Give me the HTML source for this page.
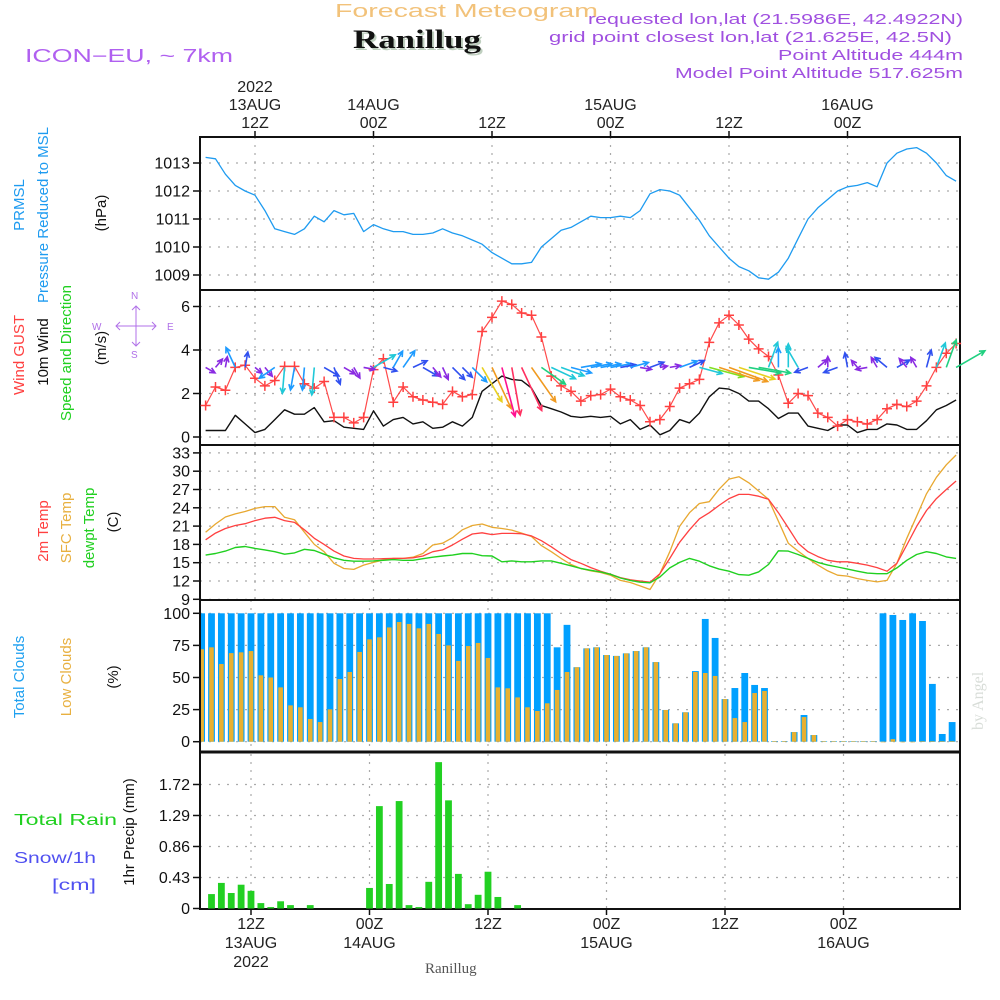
<!DOCTYPE html>
<html><head><meta charset="utf-8">
<style>
body{margin:0;background:#fff;}
svg{display:block;font-family:"Liberation Sans",sans-serif;}
</style></head>
<body>
<svg id="chart" width="1000" height="1000" viewBox="0 0 1000 1000" xmlns="http://www.w3.org/2000/svg">
<rect width="1000" height="1000" fill="#fff"/>
<text x="335" y="17" font-size="18" fill="#f2c27a" textLength="263" lengthAdjust="spacingAndGlyphs">Forecast Meteogram</text>
<text x="355" y="50" font-family="Liberation Serif,serif" font-weight="bold" font-size="26" fill="#bfcfbf" textLength="128" lengthAdjust="spacingAndGlyphs">Ranillug</text>
<text x="353" y="48" font-family="Liberation Serif,serif" font-weight="bold" font-size="26" fill="#111" textLength="128" lengthAdjust="spacingAndGlyphs">Ranillug</text>
<text x="25" y="62" font-size="18" fill="#b060f0" textLength="208" lengthAdjust="spacingAndGlyphs">ICON−EU, ~ 7km</text>
<g fill="#a050e0" font-size="15">
<text x="588" y="24" textLength="375" lengthAdjust="spacingAndGlyphs">requested lon,lat (21.5986E, 42.4922N)</text>
<text x="549" y="42" textLength="403" lengthAdjust="spacingAndGlyphs">grid point closest lon,lat (21.625E, 42.5N)</text>
<text x="778" y="60" textLength="185" lengthAdjust="spacingAndGlyphs">Point Altitude 444m</text>
<text x="675" y="78" textLength="288" lengthAdjust="spacingAndGlyphs">Model Point Altitude 517.625m</text>
</g>
<g font-size="15">
<text transform="translate(24,205) rotate(-90)" text-anchor="middle" fill="#1e9bf0">PRMSL</text>
<text transform="translate(48,215) rotate(-90)" text-anchor="middle" fill="#1e9bf0">Pressure Reduced to MSL</text>
<text transform="translate(106,213) rotate(-90)" text-anchor="middle" fill="#111">(hPa)</text>
<text transform="translate(24,355) rotate(-90)" text-anchor="middle" fill="#ff4040">Wind GUST</text>
<text transform="translate(48,352) rotate(-90)" text-anchor="middle" fill="#111">10m Wind</text>
<text transform="translate(71,353) rotate(-90)" text-anchor="middle" fill="#20d020">Speed and Direction</text>
<text transform="translate(106,348) rotate(-90)" text-anchor="middle" fill="#111">(m/s)</text>
<text transform="translate(48,531) rotate(-90)" text-anchor="middle" fill="#ff4040">2m Temp</text>
<text transform="translate(71,528) rotate(-90)" text-anchor="middle" fill="#e8b040">SFC Temp</text>
<text transform="translate(94,528) rotate(-90)" text-anchor="middle" fill="#20d020">dewpt Temp</text>
<text transform="translate(118,522) rotate(-90)" text-anchor="middle" fill="#111">(C)</text>
<text transform="translate(24,677) rotate(-90)" text-anchor="middle" fill="#1ea0f0">Total Clouds</text>
<text transform="translate(71,677) rotate(-90)" text-anchor="middle" fill="#e8b040">Low Clouds</text>
<text transform="translate(118,677) rotate(-90)" text-anchor="middle" fill="#111">(%)</text>
<text transform="translate(134,832) rotate(-90)" text-anchor="middle" fill="#111">1hr Precip  (mm)</text>
<text x="14" y="825" font-size="16" fill="#20d020" textLength="103" lengthAdjust="spacingAndGlyphs">Total   Rain</text>
<text x="14" y="863" font-size="16" fill="#5050f0" textLength="82" lengthAdjust="spacingAndGlyphs">Snow/1h</text>
<text x="52" y="890" font-size="16" fill="#5050f0" textLength="44" lengthAdjust="spacingAndGlyphs">[cm]</text>
</g>
<g fill="#b070e8" stroke="#b070e8" font-size="10">
<text x="131" y="299" stroke="none">N</text>
<text x="92" y="330" stroke="none">W</text>
<text x="167" y="330" stroke="none">E</text>
<text x="131" y="358" stroke="none">S</text>
<path d="M116 326 L156 326 M136 306 L136 346 M120 322 L116 326 L120 330 M152 322 L156 326 L152 330 M132 310 L136 306 L140 310 M132 342 L136 346 L140 342" fill="none" stroke-width="1"/>
</g>
<g id="plots"></g>
<text x="425" y="973" font-family="Liberation Serif,serif" font-size="15" fill="#555">Ranillug</text>
<text transform="translate(983,730) rotate(-90)" font-family="Liberation Serif,serif" font-size="16" fill="#d8ddd8">by Angel</text>
</svg>
<script>
const hours = [];
for (let h = -5; h <= 71; h++) hours.push(h);
const pressure = [1013.2,1013.15,1012.6,1012.2,1012.0,1011.85,1011.3,1010.65,1010.55,1010.45,1010.65,1011.1,1010.9,1011.3,1011.15,1011.2,1010.55,1010.8,1010.65,1010.55,1010.55,1010.45,1010.45,1010.5,1010.65,1010.5,1010.4,1010.25,1010.1,1009.8,1009.6,1009.4,1009.4,1009.45,1010.0,1010.3,1010.6,1010.7,1010.9,1011.1,1011.05,1011.05,1011.1,1011.05,1011.3,1011.9,1012.05,1012.0,1011.85,1011.4,1010.95,1010.4,1010.0,1009.6,1009.3,1009.15,1008.9,1008.85,1009.1,1009.6,1010.3,1011.0,1011.4,1011.7,1012.0,1012.15,1012.2,1012.3,1012.15,1013.0,1013.35,1013.5,1013.55,1013.35,1013.0,1012.55,1012.35];
const gust = [1.45,2.3,2.15,3.2,3.3,2.7,2.35,2.6,3.25,3.25,2.45,2.25,2.55,0.9,0.9,0.65,0.9,3.1,3.6,1.6,2.3,1.85,1.7,1.6,1.5,2.1,1.85,1.95,4.85,5.5,6.25,6.1,5.7,5.6,4.6,2.8,2.35,2.1,1.65,1.9,1.95,2.2,1.85,1.7,1.45,0.7,0.8,1.4,2.25,2.45,2.65,4.35,5.25,5.6,5.15,4.5,4.05,3.7,2.85,1.55,2.0,1.9,1.1,0.9,0.5,0.8,0.7,0.6,0.8,1.3,1.5,1.4,1.65,2.35,3.2,3.85,4.3];
const wind10 = [0.3,0.3,0.3,1.0,0.6,0.2,0.35,0.8,1.25,1.05,1.05,1.35,0.7,0.75,0.45,0.4,0.35,1.2,0.5,0.8,0.9,0.6,0.7,0.4,0.45,0.7,0.5,0.9,2.1,2.45,2.8,2.65,2.6,2.25,1.45,1.3,1.15,0.95,0.9,0.95,0.9,0.95,0.6,0.8,0.35,0.55,0.1,0.3,0.8,0.65,1.1,1.85,2.25,2.2,2.0,1.65,1.65,1.3,0.85,1.1,1.1,0.5,0.4,0.3,0.55,0.55,0.2,0.35,0.35,0.6,0.55,0.35,0.35,0.75,1.25,1.45,1.7];
const windDir = [30,-50,-80,-115,-80,40,50,145,95,100,95,95,30,70,30,60,10,-30,15,-60,-55,-25,30,50,65,45,45,45,60,65,75,80,65,55,35,25,20,15,-10,-10,-10,-10,-10,-15,10,-20,-10,-10,-20,-25,15,15,18,20,18,10,10,-70,-90,-90,-120,160,-40,-90,160,-100,-130,170,-120,-140,-30,-130,-120,-75,-70,-70,-30];
const temp2m = [18.75,19.85,20.6,21.1,21.4,21.9,22.3,22.45,21.9,21.6,20.4,19.0,18.0,16.9,16.1,15.7,15.6,15.6,15.65,15.7,15.7,15.8,16.1,16.8,17.1,17.9,18.85,19.7,19.9,19.6,19.8,19.8,19.75,19.4,18.6,17.6,16.5,15.5,14.9,14.2,13.6,13.1,12.55,12.2,12.0,11.8,13.2,15.7,18.35,20.4,22.2,23.2,24.4,25.5,26.2,26.2,25.9,25.4,23.2,20.7,18.2,16.8,16.0,15.4,15.15,15.15,14.9,14.6,14.2,13.6,14.9,17.9,20.95,23.55,25.5,27.0,28.4];
const tempSfc = [20.0,21.35,22.5,23.0,23.4,23.9,24.2,24.2,22.45,22.05,20.0,18.0,16.8,14.9,14.05,13.9,14.6,15.05,15.45,15.7,15.7,15.9,16.5,17.9,18.2,19.1,20.4,21.1,21.35,20.8,20.6,20.35,19.85,19.3,17.8,16.8,15.7,14.7,14.05,13.65,13.4,12.95,12.1,11.75,11.2,10.6,13.2,16.8,20.95,23.2,24.7,25.0,27.05,28.7,29.1,28.1,26.75,25.4,21.8,18.2,16.9,15.7,14.6,13.65,12.95,12.8,12.4,12.1,11.85,12.1,14.9,19.0,22.6,26.3,29.0,31.05,32.65];
const dewpt = [16.25,16.5,16.9,17.5,17.65,17.35,17.1,16.8,16.4,16.6,17.2,17.0,16.4,15.8,15.4,15.25,15.25,15.3,15.4,15.5,15.4,15.4,15.65,15.9,16.1,16.25,16.5,16.5,16.15,16.1,15.15,15.3,15.15,15.15,15.3,15.3,14.9,14.5,14.05,13.75,13.5,13.1,12.5,12.1,11.8,11.7,12.65,14.15,15.05,15.7,15.25,14.5,13.95,13.6,13.05,12.95,13.5,14.7,16.95,16.9,16.35,15.7,15.05,14.6,14.3,13.95,13.6,13.3,13.2,13.2,14.15,15.4,16.35,16.8,16.5,15.95,15.7];
const totalCloud = [100,100,100,100,100,100,100,100,100,100,100,100,100,100,100,100,100,100,100,100,100,100,100,100,100,100,100,100,100,100,100,100,100,100,100,100,73.5,91,58,72.7,73.5,67.5,66.8,68.8,70.6,73.5,62,24.7,14.3,22.9,55,95.6,80.8,33.2,41.8,53.5,44.2,41.8,0.5,0.5,7.5,20.8,5.2,0.3,0.3,0.3,0.3,0.3,0.3,100,98.7,94.8,100,94,45,6,15.3];
const lowCloud = [72,73.5,60.5,69,69.6,70.6,51.7,50,42.3,28.3,26.8,17.7,15.3,25.2,48.8,54.3,69.9,79.7,81.3,89,93.2,91.7,88.3,91.7,83.9,75,62.9,74.5,76.9,65.2,42.3,41.6,34.5,26.8,23.9,29.9,40.3,54.3,58,72.7,73.5,67.5,66.8,68.8,70.6,73.5,62,24.7,14.3,22.9,54.3,53.5,51.2,33.2,18.4,15.3,37.9,39.5,0.5,0.5,7.5,19.2,5.2,0.3,0.3,0.3,0.3,0.3,0.3,0,2,0,0,0.3,0.3,0.3,0.3];
const precip = [0,0.2,0.355,0.215,0.33,0.245,0.075,0.02,0.1,0.047,0,0.047,0,0,0,0,0,0.285,1.42,0.34,1.49,0.047,0.02,0.37,2.03,1.5,0.48,0.06,0.19,0.51,0.16,0,0.047,0,0,0,0,0,0,0,0,0,0,0,0,0,0,0,0,0,0,0,0,0,0,0,0,0,0,0,0,0,0,0,0,0,0,0,0,0,0,0,0,0,0,0,0];
const pressureTicks = [1009,1010,1011,1012,1013];
const windTicks = [0,2,4,6];
const tempTicks = [9,12,15,18,21,24,27,30,33];
const cloudTicks = [0,25,50,75,100];
const precipTicks = [0,0.43,0.86,1.29,1.72];
const timeTicks = [0,12,24,36,48,60];
const topTimeLabels = [["2022","13AUG","12Z"],["","14AUG","00Z"],["","","12Z"],["","15AUG","00Z"],["","","12Z"],["","16AUG","00Z"]];
const bottomTimeLabels = [["12Z","13AUG","2022"],["00Z","14AUG",""],["12Z","",""],["00Z","15AUG",""],["12Z","",""],["00Z","16AUG",""]];

const NS = "http://www.w3.org/2000/svg";
const root = document.getElementById('plots');
const L = 200, R = 960;
const xT = h => 255 + h * 9.875;
const xB = h => 251 + h * 9.875;
const yP = v => 163 + (1013 - v) * 28;
const yW = v => 437 - v * 21.75;
const yT = v => 581 - (v - 12) * 6.1;
const yC = v => 741.7 - v * 1.284;
const yR = v => 908.5 - v * 72.1;
function mk(tag, attrs, parent) {
  const e = document.createElementNS(NS, tag);
  for (const k in attrs) e.setAttribute(k, attrs[k]);
  (parent || root).appendChild(e);
  return e;
}
const panels = [
  {name:'pressure', top:137, bot:290, y:yP, ticks:pressureTicks, xg:xT},
  {name:'wind', top:290, bot:445, y:yW, ticks:windTicks, xg:xT},
  {name:'temperature', top:445, bot:600, y:yT, ticks:tempTicks, xg:xT},
  {name:'clouds', top:600, bot:752, y:yC, ticks:cloudTicks, xg:xB},
  {name:'precip', top:754, bot:909, y:yR, ticks:precipTicks, xg:xB}
];
panels.forEach(p => {
  const g = mk('g', {});
  
  
  p.ticks.forEach(v => {
    const y = p.y(v);
    if (y > p.bot + 1 || y < p.top - 1) return;
    if (!(p.name === 'precip' && v === 0)) {
      const gl = mk('line', {x1:L, x2:R, y1:y, y2:y, stroke:'#aaa', 'stroke-width':1.2, 'stroke-dasharray':'2,7'}, g);
      
      
    }
    mk('line', {x1:L-7, x2:L, y1:y, y2:y, stroke:'#111', 'stroke-width':1.5}, g);
    const t = mk('text', {x:L-10, y:y+5.5, 'text-anchor':'end', 'font-size':16, fill:'#111'}, g);
    t.textContent = String(v);
    
    
  });
  timeTicks.forEach(h => {
    const x = p.xg(h);
    const vl = mk('line', {x1:x, x2:x, y1:p.top, y2:p.bot, stroke:'#aaa', 'stroke-width':1.2, 'stroke-dasharray':'2,6'}, g);
    
    
  });
});
const frame = mk('g', {fill:'none', stroke:'#111', 'stroke-width':2});


mk('rect', {x:L, y:137, width:R-L, height:772}, frame);
[290,445,600].forEach(y => mk('line', {x1:L, x2:R, y1:y, y2:y}, frame));
mk('line', {x1:L, x2:R, y1:752, y2:752, 'stroke-width':3}, frame);
mk('line', {x1:L, x2:R, y1:909, y2:909, 'stroke-width':2}, frame);
timeTicks.forEach((h, i) => {
  const x = xT(h);
  mk('line', {x1:x, x2:x, y1:131, y2:137, stroke:'#111', 'stroke-width':1.5});
  topTimeLabels[i].forEach((s, j) => {
    if (!s) return;
    const t = mk('text', {x:x, y:92 + j*18, 'text-anchor':'middle', 'font-size':16, fill:'#222'});
    t.textContent = s;
    
    
  });
  const xb = xB(h);
  mk('line', {x1:xb, x2:xb, y1:909, y2:915, stroke:'#111', 'stroke-width':1.5});
  bottomTimeLabels[i].forEach((s, j) => {
    if (!s) return;
    const t = mk('text', {x:xb, y:929 + j*19, 'text-anchor':'middle', 'font-size':16, fill:'#222'});
    t.textContent = s;
    
    
  });
});
function line(arr, yf, color, w, name) {
  const d = arr.map((v, i) => (i ? 'L' : 'M') + xT(hours[i]).toFixed(1) + ' ' + yf(v).toFixed(1)).join(' ');
  const p = mk('path', {d:d, fill:'none', stroke:color, 'stroke-width':w, 'stroke-linejoin':'round'});
  
  
}
line(pressure, yP, '#1e9bf0', 1.3, 'pressure-line');
line(wind10, yW, '#111', 1.4, 'wind10-line');
line(gust, yW, '#ff4a4a', 1.2, 'gust-line');
gust.forEach((v, i) => {
  const x = xT(hours[i]), y = yW(v);
  const m = mk('path', {d:`M${x-5} ${y} L${x+5} ${y} M${x} ${y-5} L${x} ${y+5}`, stroke:'#ff4040', 'stroke-width':1.5});
  
  
});
function windColor(s) {
  if (s < 0.5) return '#8a2be2';
  if (s < 0.8) return '#3050f0';
  if (s < 1.1) return '#1e9bff';
  if (s < 1.4) return '#20c8d8';
  if (s < 1.8) return '#20d080';
  if (s < 2.0) return '#80e020';
  if (s < 2.2) return '#e8d020';
  if (s < 2.5) return '#f09a20';
  if (s < 2.7) return '#ff3060';
  return '#ff1090';
}
windDir.forEach((a, i) => {
  const s = wind10[i];
  const len = 16 * s + 6;
  const x0 = xT(hours[i]), y0 = yW(3.2);
  const r = a * Math.PI / 180;
  const x1 = x0 + len * Math.cos(r), y1 = y0 + len * Math.sin(r);
  const hl = 6;
  const a1 = r + Math.PI - 0.45, a2 = r + Math.PI + 0.45;
  const d = `M${x0.toFixed(1)} ${y0.toFixed(1)} L${x1.toFixed(1)} ${y1.toFixed(1)} M${(x1+hl*Math.cos(a1)).toFixed(1)} ${(y1+hl*Math.sin(a1)).toFixed(1)} L${x1.toFixed(1)} ${y1.toFixed(1)} L${(x1+hl*Math.cos(a2)).toFixed(1)} ${(y1+hl*Math.sin(a2)).toFixed(1)}`;
  const p = mk('path', {d:d, fill:'none', stroke:windColor(s), 'stroke-width':1.6});
  
  
});
line(tempSfc, yT, '#e8a830', 1.3, 'sfc-temp-line');
line(temp2m, yT, '#ff4040', 1.3, 'temp2m-line');
line(dewpt, yT, '#20d020', 1.4, 'dewpt-line');
function clipBar(x, w) { const x0 = Math.max(L + 1, x - w/2), x1 = Math.min(R - 1, x + w/2); return [x0, Math.max(0, x1 - x0)]; }
totalCloud.forEach((v, i) => {
  const [x, w] = clipBar(xB(hours[i]), 6.8);
  const y = yC(v);
  const b = mk('rect', {x:x, y:y, width:w, height:Math.max(0.6, yC(0) - y), fill:'#00a0ff'});
  
  
});
lowCloud.forEach((v, i) => {
  const [x, w] = clipBar(xB(hours[i]), 4.6);
  const y = yC(v);
  const b = mk('rect', {x:x, y:y, width:w, height:Math.max(0.6, yC(0) - y), fill:'#e8b030'});
  
  
});
precip.forEach((v, i) => {
  if (v <= 0) return;
  const [x, w] = clipBar(xB(hours[i]), 6.8);
  const y = yR(v);
  const b = mk('rect', {x:x, y:y, width:w, height:yR(0) - y, fill:'#22d022'});
  
  
});
</script>
</body></html>
